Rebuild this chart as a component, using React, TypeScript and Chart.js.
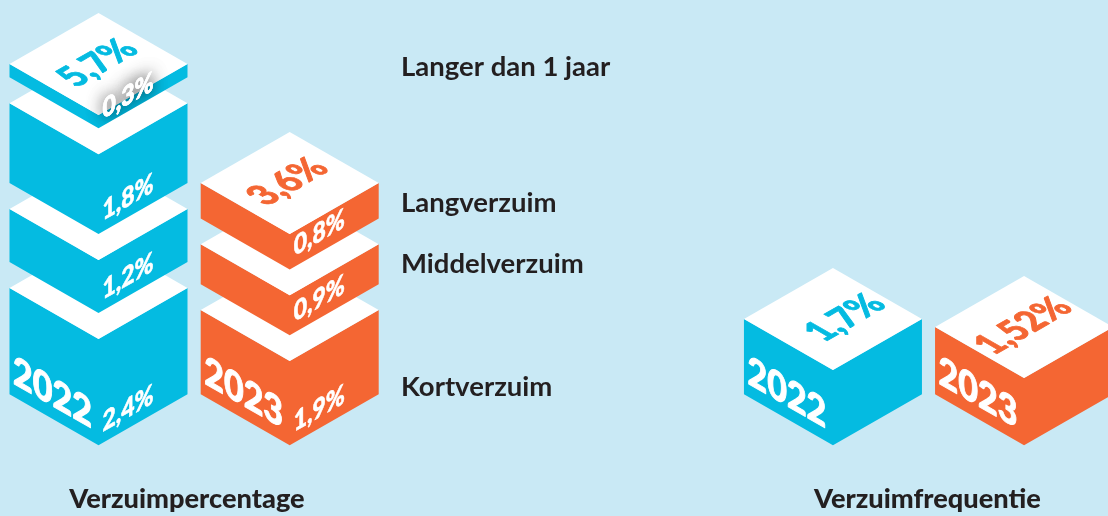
import React, { useEffect, useRef } from "react";
import { Chart, registerables } from "chart.js";

Chart.register(...registerables);

const years = ["2022", "2023"];
const kortverzuim = [2.4, 1.9];
const middelverzuim = [1.2, 0.9];
const langverzuim = [1.8, 0.8];
const langerDanJaar = [0.3, null];
const percentageTotals = ["5,7%", "3,6%"];
const frequency = [1.7, 1.52];
const frequencyLabels = ["1,7%", "1,52%"];
const yearColors = ["#04bbe1", "#f46633"];
const titles = ["Verzuimpercentage", "Verzuimfrequentie"];

const BG = "#c9e9f5";
const INK = "#231f20";
const FONT = "Lato";
const SLOPE = 0.573;
const GAP = 25.9;
const H = 516;
const Y_MAX = 8.9;
const PLOT_BOTTOM = 394.3;

const fmt = (v: number) => String(v).replace(".", ",") + "%";

function paint(ctx: any, text: string, color: string, weight: number) {
  ctx.fillStyle = color;
  ctx.strokeStyle = color;
  ctx.lineWidth = weight;
  ctx.lineJoin = "round";
  ctx.strokeText(text, 0, 0);
  ctx.fillText(text, 0, 0);
}

function sheared(ctx: any, text: string, x: number, y: number, shear: number, font: string, color: string, weight = 0.5) {
  ctx.save();
  ctx.transform(1, shear, 0, 1.18, x, y);
  ctx.font = font;
  ctx.textAlign = "left";
  ctx.textBaseline = "alphabetic";
  paint(ctx, text, color, weight);
  ctx.restore();
}

function onTop(ctx: any, text: string, cx: number, cy: number, font: string, color: string) {
  ctx.save();
  ctx.transform(0.867, -0.497, 0.867 * 1.18, 0.497 * 1.18, cx, cy);
  ctx.font = font;
  ctx.textAlign = "center";
  ctx.textBaseline = "middle";
  paint(ctx, text, color, 0.8);
  ctx.restore();
}

function blocksPlugin(opts: { topLabels: string[]; topShift: number[]; faceValues: boolean }) {
  return {
    id: "isoBlocks",
    beforeDatasetsDraw(chart: any) {
      const ctx = chart.ctx;
      const count = chart.data.labels.length;
      for (let i = 0; i < count; i++) {
        let level = 0;
        let last: any = null;
        chart.data.datasets.forEach((ds: any, d: number) => {
          const v = ds.data[i];
          if (v == null) return;
          const bar = chart.getDatasetMeta(d).data[i];
          const half = bar.width / 2;
          const dy = half * SLOPE;
          const lift = level * GAP;
          const top = bar.y - lift;
          const bottom = bar.base - lift;
          const cx = bar.x;
          const color = yearColors[i];
          ctx.fillStyle = color;
          ctx.beginPath();
          ctx.moveTo(cx - half, top);
          ctx.lineTo(cx, top + dy);
          ctx.lineTo(cx + half, top);
          ctx.lineTo(cx + half, bottom);
          ctx.lineTo(cx, bottom + dy);
          ctx.lineTo(cx - half, bottom);
          ctx.closePath();
          ctx.fill();
          ctx.fillStyle = "#ffffff";
          ctx.beginPath();
          ctx.moveTo(cx - half, top);
          ctx.lineTo(cx, top - dy);
          ctx.lineTo(cx + half, top);
          ctx.lineTo(cx, top + dy);
          ctx.closePath();
          ctx.fill();
          last = { bar, cx, top, bottom, half, dy, v, color };
          level++;
        });
        chart.data.datasets.forEach((ds: any, d: number) => {
          const v = ds.data[i];
          if (v == null || !opts.faceValues) return;
          const bar = chart.getDatasetMeta(d).data[i];
          const lvl = chart.data.datasets.slice(0, d).filter((o: any) => o.data[i] != null).length;
          const half = bar.width / 2;
          const dy = half * SLOPE;
          const top = bar.y - lvl * GAP;
          const bottom = bar.base - lvl * GAP;
          const cx = bar.x;
          const tx = cx + 4;
          const ty = bottom + dy - 4 * SLOPE - (v < 0.5 ? 7 : 11);
          if (v < 0.5) {
            ctx.save();
            ctx.beginPath();
            ctx.moveTo(cx - half, top);
            ctx.lineTo(cx, top - dy);
            ctx.lineTo(cx + half, top);
            ctx.lineTo(cx + half, bottom);
            ctx.lineTo(cx, bottom + dy);
            ctx.lineTo(cx - half, bottom);
            ctx.closePath();
            ctx.clip();
            ctx.shadowColor = "rgba(0,0,0,0.8)";
            ctx.shadowBlur = 16;
            sheared(ctx, fmt(v), tx, ty, -SLOPE, `900 23px ${FONT}`, "#ffffff");
            ctx.restore();
          }
          sheared(ctx, fmt(v), tx, ty, -SLOPE, `900 23px ${FONT}`, "#ffffff");
        });
        if (last) {
          const { half } = last;
          onTop(ctx, opts.topLabels[i], last.cx + opts.topShift[i], last.top - 1, `900 33.5px ${FONT}`, last.color);
          const base = chart.getDatasetMeta(0).data[i];
          sheared(ctx, chart.data.labels[i], base.x - half + 3.5, base.base - 11, SLOPE, `900 34px ${FONT}`, "#ffffff", 0.8);
        }
      }
      return false;
    },
  };
}

function textPlugin(texts: { text: string; x: number; y: number; font: string }[]) {
  return {
    id: "sideTexts",
    afterDraw(chart: any) {
      const ctx = chart.ctx;
      ctx.save();
      ctx.fillStyle = INK;
      ctx.textBaseline = "alphabetic";
      texts.forEach((t) => {
        ctx.font = t.font;
        ctx.textAlign = t.font.includes("900") ? "center" : "left";
        ctx.fillText(t.text, t.x, t.y);
      });
      ctx.restore();
    },
  };
}

function buildOptions(padding: any) {
  return {
    responsive: false,
    animation: false as const,
    events: [],
    layout: { padding },
    plugins: { legend: { display: false }, title: { display: false }, tooltip: { enabled: false } },
    scales: {
      x: { stacked: true, display: false, offset: true, grid: { display: false } },
      y: { stacked: true, display: false, min: 0, max: Y_MAX, grid: { display: false } },
    },
  };
}

export default function App() {
  const leftRef = useRef<HTMLCanvasElement>(null);
  const rightRef = useRef<HTMLCanvasElement>(null);

  useEffect(() => {
    const bar = (label: string, data: (number | null)[]) => ({
      label,
      data,
      backgroundColor: yearColors,
      barThickness: 178,
    });
    const labelFont = `700 27.5px ${FONT}`;
    const titleFont = `900 27.2px ${FONT}`;
    const left = new Chart(leftRef.current as HTMLCanvasElement, {
      type: "bar",
      data: {
        labels: years,
        datasets: [
          bar("Kortverzuim", kortverzuim),
          bar("Middelverzuim", middelverzuim),
          bar("Langverzuim", langverzuim),
          bar("Langer dan 1 jaar", langerDanJaar),
        ],
      },
      options: buildOptions({ left: 2.9, right: 254.7, top: 0, bottom: H - PLOT_BOTTOM }) as any,
      plugins: [
        blocksPlugin({ topLabels: percentageTotals, topShift: [-1, -2], faceValues: true }),
        textPlugin([
          { text: "Langer dan 1 jaar", x: 401, y: 76, font: labelFont },
          { text: "Langverzuim", x: 401, y: 212, font: labelFont },
          { text: "Middelverzuim", x: 401, y: 273, font: labelFont },
          { text: "Kortverzuim", x: 401, y: 396, font: labelFont },
          { text: titles[0], x: 187, y: 508, font: titleFont },
        ]),
      ] as any,
    });
    const right = new Chart(rightRef.current as HTMLCanvasElement, {
      type: "bar",
      data: { labels: years, datasets: [bar("Verzuimfrequentie", frequency)] },
      options: buildOptions({ left: 97.4, right: 0.4, top: 0, bottom: H - PLOT_BOTTOM }) as any,
      plugins: [
        blocksPlugin({ topLabels: frequencyLabels, topShift: [12, -1], faceValues: false }),
        textPlugin([{ text: titles[1], x: 287.5, y: 508, font: titleFont }]),
      ] as any,
    });
    return () => {
      left.destroy();
      right.destroy();
    };
  }, []);

  return (
    <div style={{ position: "fixed", left: 0, top: 0, width: 1108, height: 516, overflow: "hidden", background: BG }}>
      <canvas ref={leftRef} width={640} height={516} style={{ position: "absolute", left: 0, top: 0, display: "block" }} />
      <canvas ref={rightRef} width={480} height={516} style={{ position: "absolute", left: 640, top: 0, display: "block" }} />
    </div>
  );
}
